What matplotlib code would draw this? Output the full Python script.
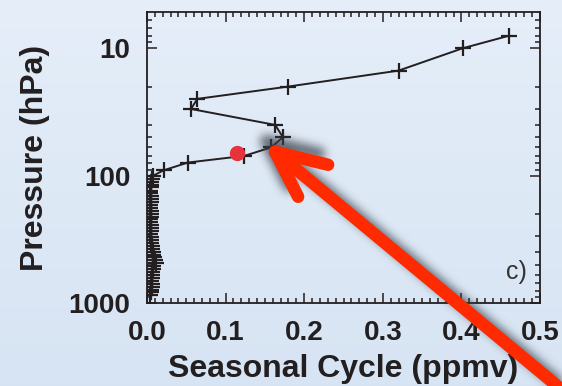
import numpy as np
import matplotlib
matplotlib.use("Agg")
import matplotlib.pyplot as plt
from matplotlib.lines import Line2D
from matplotlib.transforms import IdentityTransform
from matplotlib.ticker import FixedLocator, LogLocator, MultipleLocator, NullFormatter

# === Profile data ===
# stratospheric part of the profile (ppmv, hPa)
upper_cycle = [0.460, 0.402, 0.320, 0.180, 0.064, 0.056, 0.163, 0.173, 0.158, 0.124, 0.052, 0.021]
upper_press = [8.0, 10, 15, 20, 25, 30, 40, 50, 60, 70, 79, 91]

# tropospheric part, nearly zero seasonal cycle
lower_press = [100, 106, 112, 118, 124, 131, 138, 145, 153, 161, 170, 179, 189, 199,
               210, 221, 233, 246, 259, 273, 288, 304, 320, 337, 356, 375, 395, 417,
               439, 463, 488, 515, 542, 572, 603, 635, 670, 706, 744, 784, 827, 860]
lower_cycle = [0.008, 0.006, 0.005, 0.005, 0.005, 0.004, 0.004, 0.005, 0.005, 0.005,
               0.004, 0.004, 0.005, 0.005, 0.005, 0.004, 0.004, 0.005, 0.005, 0.005,
               0.004, 0.005, 0.005, 0.005, 0.006, 0.006, 0.007, 0.008, 0.009, 0.010,
               0.011, 0.008, 0.007, 0.006, 0.006, 0.006, 0.005, 0.006, 0.006, 0.005,
               0.005, 0.004]

# highlighted level
dot_cycle = [0.114]
dot_press = [66]

# arrow anchor (data coords) and shape in pixels relative to the tip
ARROW_TIP = (0.163, 65)
ARROW_SEGS = [((0, 0), (300, -249)), ((0, 0), (53, -13)), ((0, 0), (23, -45))]

W, H, DPI = 562, 386, 100
INK = "#231f20"
RED = "#ff2a00"

plt.rcParams["font.family"] = ["Liberation Sans", "DejaVu Sans"]

fig = plt.figure(figsize=(W / DPI, H / DPI), dpi=DPI)
fig.patch.set_facecolor("#dde8f4")

# soft vertical background gradient
top = np.array([0.898, 0.933, 0.976])
bot = np.array([0.843, 0.894, 0.953])
t = np.linspace(0, 1, H)[:, None, None]
grad = (top * (1 - t) + bot * t) * np.ones((1, W, 1))
fig.figimage(grad, xo=0, yo=0, origin="upper", zorder=-10)

ax = fig.add_axes([147 / W, 83 / H, 393 / W, 291 / H])
ax.set_facecolor("none")

x_all = upper_cycle + lower_cycle
p_all = upper_press + lower_press
ax.plot(x_all, p_all, color=INK, lw=1.4, marker="+", ms=11, mew=1.6, zorder=3)
ax.plot(dot_cycle, dot_press, "o", color="#e8323c", ms=10, zorder=4, clip_on=False)

ax.set_yscale("log")
ax.set_ylim(1000, 5.2)
ax.set_xlim(0, 0.5)

ax.yaxis.set_major_locator(FixedLocator([10, 100, 1000]))
ax.set_yticklabels(["10", "100", "1000"])
ax.yaxis.set_minor_locator(LogLocator(base=10, subs=np.arange(2, 10)))
ax.yaxis.set_minor_formatter(NullFormatter())
ax.xaxis.set_major_locator(MultipleLocator(0.1))
ax.xaxis.set_minor_locator(MultipleLocator(0.01))
ax.xaxis.set_major_formatter(plt.FuncFormatter(lambda v, _: f"{v:.1f}"))

ax.tick_params(which="both", direction="in", top=True, right=True, colors=INK,
               width=1.1)
ax.tick_params(which="major", length=7)
ax.tick_params(which="minor", length=3.5)
ax.tick_params(axis="y", which="major", pad=12, labelsize=20)
ax.tick_params(axis="x", which="major", pad=12, labelsize=20)
for lab in ax.get_xticklabels() + ax.get_yticklabels():
    lab.set_fontweight("bold")
for sp in ax.spines.values():
    sp.set_color(INK)
    sp.set_linewidth(1.3)

ax.set_xlabel("Seasonal Cycle (ppmv)", fontsize=23, fontweight="bold", color=INK,
              labelpad=6)
ax.set_ylabel("Pressure (hPa)", fontsize=23, fontweight="bold", color=INK,
              labelpad=13)
ax.text(0.941, 0.107, "c)", transform=ax.transAxes, fontsize=18, color="#333333",
        ha="center", va="center")

# --- red arrow with a blurred drop shadow ---
tip = ax.transData.transform(ARROW_TIP)
segs = [(tip + np.array(a), tip + np.array(b)) for a, b in ARROW_SEGS]
lw_px = 12.5

def seg_dist(px, py, a, b):
    d = b - a
    u = np.clip(((px - a[0]) * d[0] + (py - a[1]) * d[1]) / (d @ d), 0, 1)
    return np.hypot(px - (a[0] + u * d[0]), py - (a[1] + u * d[1]))

yy, xx = np.mgrid[0:H, 0:W]
px, py = xx + 0.5, (H - yy) - 0.5
shift = np.array([-9.0, 11.0])
dist = np.min([seg_dist(px, py, a + shift, b + shift) for a, b in segs], axis=0)
mask = (dist < lw_px / 2).astype(float)

sig = 4.5
k = np.arange(-14, 15)
kern = np.exp(-k ** 2 / (2 * sig ** 2))
kern /= kern.sum()
blur = np.apply_along_axis(lambda r: np.convolve(r, kern, mode="same"), 1, mask)
blur = np.apply_along_axis(lambda c: np.convolve(c, kern, mode="same"), 0, blur)

shadow = np.zeros((H, W, 4))
shadow[..., :3] = [0.22, 0.24, 0.28]
shadow[..., 3] = np.clip(blur * 0.75, 0, 1)
fig.figimage(shadow, xo=0, yo=0, origin="upper", zorder=5)

for a, b in segs:
    ln = Line2D([a[0], b[0]], [a[1], b[1]], transform=IdentityTransform(),
                color=RED, lw=lw_px * 72 / DPI, solid_capstyle="round", zorder=6)
    fig.add_artist(ln)

fig.savefig("out.png", dpi=DPI)
